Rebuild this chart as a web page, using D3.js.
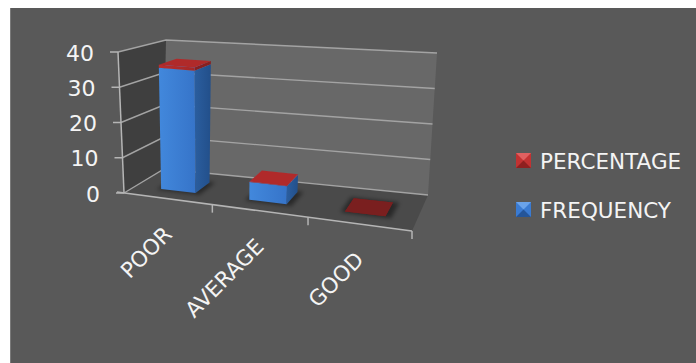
<!DOCTYPE html>
<html>
<head>
<meta charset="utf-8">
<script src="https://cdn.jsdelivr.net/npm/d3@7"></script>
<style>
body { margin: 0; background: #fff; }
svg { display: block; }
text { font-family: "DejaVu Sans", sans-serif; fill: #f4f4f4; }
</style>
</head>
<body>
<div id="chart"></div>
<script>
// data
var categories = ["POOR", "AVERAGE", "GOOD"];
var frequency = [35, 5, 0];
var percentage = [0.9, 0.1, 0];
var yTicks = [0, 10, 20, 30, 40];
var legendNames = ["PERCENTAGE", "FREQUENCY"];

var W = 696, H = 363;

var svg = d3.select("#chart").append("svg")
    .attr("width", W)
    .attr("height", H);

var defs = svg.append("defs");
var blur = defs.append("filter").attr("id", "blur")
    .attr("x", "-50%").attr("y", "-50%").attr("width", "200%").attr("height", "200%");
blur.append("feGaussianBlur").attr("stdDeviation", 2.2);

function grad(id, c1, c2) {
    var g = defs.append("linearGradient").attr("id", id)
        .attr("x1", 0).attr("y1", 0).attr("x2", 1).attr("y2", 0);
    g.append("stop").attr("offset", "0%").attr("stop-color", c1);
    g.append("stop").attr("offset", "100%").attr("stop-color", c2);
}
grad("blueFront", "#4288dc", "#3674c9");
grad("blueSide", "#2b5e9f", "#224f8a");
grad("redFront", "#b82e2e", "#a52727");

// background panel
svg.append("rect")
    .attr("x", 10).attr("y", 8)
    .attr("width", W - 10).attr("height", H - 8)
    .attr("fill", "#595959");
svg.append("line")
    .attr("x1", 10.5).attr("y1", 8).attr("x2", 10.5).attr("y2", H)
    .attr("stroke", "#7a7a7a");

// corners of the 3d plot box on screen
// F/B = front/back, L/R = left/right, B/T = bottom/top
var box = {
    FLB: [124, 193], FRB: [412, 231], BLB: [164, 169], BRB: [428, 195],
    FLT: [118, 52],  FRT: [419, 79],  BLT: [166, 40],  BRT: [437, 53]
};
var lam = 1.13; // perspective squeeze along category axis

function mix(a, b, t) {
    return [a[0] + (b[0] - a[0]) * t, a[1] + (b[1] - a[1]) * t];
}
function warp(t) {
    return t / (t + lam * (1 - t));
}
// u: category (0..1), v: value (0..1), w: depth (0 front .. 1 back)
function proj(u, v, w) {
    var uu = warp(u);
    var a = mix(box.FLB, box.FRB, uu), b = mix(box.BLB, box.BRB, uu);
    var c = mix(box.FLT, box.FRT, uu), d = mix(box.BLT, box.BRT, uu);
    return mix(mix(a, b, w), mix(c, d, w), v);
}
function poly(pts) {
    return d3.line()(pts) + "Z";
}

var x = d3.scaleBand().domain(categories).range([0, 1])
    .paddingInner(0.6).paddingOuter(0.3);
var y = d3.scaleLinear().domain([0, 40]).range([0, 1]);
var z = d3.scaleLinear().domain([0, 1]).range([0.3, 0.7]); // bar depth

// walls
svg.append("path")
    .attr("d", poly([proj(0, 0, 0), proj(0, 0, 1), proj(0, 1, 1), proj(0, 1, 0)]))
    .attr("fill", "#3f3f3f");
svg.append("path")
    .attr("d", poly([proj(0, 0, 1), proj(1, 0, 1), proj(1, 1, 1), proj(0, 1, 1)]))
    .attr("fill", "#686868");
svg.append("path")
    .attr("d", poly([proj(0, 0, 0), proj(1, 0, 0), proj(1, 0, 1), proj(0, 0, 1)]))
    .attr("fill", "#4a4a4a");

// gridlines on left and back walls
var grid = svg.append("g")
    .attr("stroke", "#a3a3a3").attr("stroke-width", 1.4).attr("fill", "none");
yTicks.forEach(function(t) {
    var v = y(t);
    grid.append("path").attr("d", d3.line()([proj(0, v, 0), proj(0, v, 1), proj(1, v, 1)]));
});

// value axis
var axisCol = "#b5b5b5";
svg.append("line")
    .attr("x1", proj(0, 0, 0)[0]).attr("y1", proj(0, 0, 0)[1])
    .attr("x2", proj(0, 1, 0)[0]).attr("y2", proj(0, 1, 0)[1])
    .attr("stroke", axisCol).attr("stroke-width", 1.5);
yTicks.forEach(function(t) {
    var p = proj(0, y(t), 0);
    svg.append("line")
        .attr("x1", p[0] - 8).attr("y1", p[1]).attr("x2", p[0]).attr("y2", p[1])
        .attr("stroke", axisCol).attr("stroke-width", 1.5);
    svg.append("text")
        .attr("x", p[0] - 24).attr("y", p[1] + 1)
        .attr("text-anchor", "end")
        .attr("dominant-baseline", "central")
        .attr("font-size", 22)
        .text(t);
});

// category axis
svg.append("line")
    .attr("x1", proj(0, 0, 0)[0] - 7).attr("y1", proj(0, 0, 0)[1] - 1)
    .attr("x2", proj(1, 0, 0)[0]).attr("y2", proj(1, 0, 0)[1])
    .attr("stroke", axisCol).attr("stroke-width", 1.5);
[1, 2, 3].forEach(function(k) {
    var p = proj(k / 3, 0, 0);
    svg.append("line")
        .attr("x1", p[0]).attr("y1", p[1]).attr("x2", p[0]).attr("y2", p[1] + 8)
        .attr("stroke", axisCol).attr("stroke-width", 1.5);
});
categories.forEach(function(c) {
    var p = proj(x(c) + x.bandwidth() / 2, 0, 0);
    svg.append("text")
        .attr("transform", "translate(" + (p[0] + 6) + "," + (p[1] + 37) + ") rotate(-45)")
        .attr("text-anchor", "end")
        .attr("font-size", 21.5)
        .text(c);
});

// bars (stacked)
var rows = categories.map(function(c, i) {
    return { cat: c, frequency: frequency[i], percentage: percentage[i] };
});
var series = d3.stack().keys(["frequency", "percentage"])(rows);

var shadows = svg.append("g").attr("filter", "url(#blur)");
rows.forEach(function(r) {
    var u0 = x(r.cat), u1 = u0 + x.bandwidth();
    shadows.append("path")
        .attr("d", poly([proj(u0 - 0.012, 0, z(0) - 0.04), proj(u1 + 0.02, 0, z(0) - 0.04),
                         proj(u1 + 0.02, 0, z(1) + 0.02), proj(u0 - 0.012, 0, z(1) + 0.02)]))
        .attr("fill", "#000").attr("opacity", 0.45);
});

var faceCols = {
    frequency: { front: "url(#blueFront)", side: "url(#blueSide)", top: "#4a8fe0" },
    percentage: { front: "url(#redFront)", side: "#882020", top: "#b02a2a" }
};

var bars = svg.append("g");
rows.forEach(function(r, i) {
    var u0 = x(r.cat), u1 = u0 + x.bandwidth();
    var w0 = z(0), w1 = z(1);
    series.forEach(function(s) {
        var d = s[i];
        var v0 = y(d[0]), v1 = y(d[1]);
        var col = faceCols[s.key];
        var total = r.frequency + r.percentage;
        if (v1 > v0) {
            bars.append("path")
                .attr("d", poly([proj(u1, v0, w0), proj(u1, v0, w1), proj(u1, v1, w1), proj(u1, v1, w0)]))
                .attr("fill", col.side);
            bars.append("path")
                .attr("d", poly([proj(u0, v0, w0), proj(u1, v0, w0), proj(u1, v1, w0), proj(u0, v1, w0)]))
                .attr("fill", col.front);
        }
        bars.append("path")
            .attr("d", poly([proj(u0, v1, w0), proj(u1, v1, w0), proj(u1, v1, w1), proj(u0, v1, w1)]))
            .attr("fill", total > 0 ? col.top : "#7a1f1f");
    });
});

// legend
var legendCols = [["#c23232", "#e06060", "#8e2020"], ["#3a7bd2", "#6aa3ea", "#245599"]];
legendNames.forEach(function(name, i) {
    var gy = 153 + i * 49;
    var g = svg.append("g").attr("transform", "translate(516," + gy + ")");
    var c = legendCols[i];
    g.append("rect").attr("width", 15).attr("height", 15).attr("fill", c[0]);
    g.append("path").attr("d", "M0,0L15,0L7.5,7.5Z").attr("fill", c[1]);
    g.append("path").attr("d", "M0,15L15,15L7.5,7.5Z").attr("fill", c[2]);
    svg.append("text")
        .attr("x", 540).attr("y", gy + 15.5)
        .attr("font-size", 21.5)
        .text(name);
});
</script>
</body>
</html>
